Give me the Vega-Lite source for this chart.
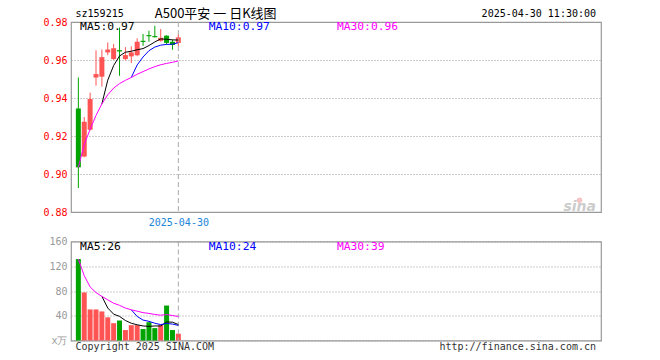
{
  "$schema": "https://vega.github.io/schema/vega-lite/v6.json",
  "background": "white",
  "padding": {"left": 0, "top": 7, "right": 0, "bottom": 0},
  "spacing": 29.5,
  "bounds": "flush",
  "config": {
    "view": {"stroke": "#999999", "strokeWidth": 1.2},
    "axis": {"labelFont": "DejaVu Sans Mono", "labelFontSize": 10, "ticks": false, "tickSize": 0, "domain": false, "title": null, "labelOverlap": false}
  },
  "datasets": {
    "k": [
      {"i": 1, "o": 0.9345, "h": 0.9508, "l": 0.8926, "c": 0.9035, "v": 131.6, "dir": "down", "ma30": 0.9035, "v30": 131.6},
      {"i": 2, "o": 0.9092, "h": 0.9300, "l": 0.9088, "c": 0.9275, "v": 77.7, "dir": "up", "ma30": 0.9155, "v30": 104.7},
      {"i": 3, "o": 0.9233, "h": 0.9428, "l": 0.9230, "c": 0.9395, "v": 50.2, "dir": "up", "ma30": 0.9235, "v30": 86.5},
      {"i": 4, "o": 0.9508, "h": 0.9651, "l": 0.9465, "c": 0.9526, "v": 50.2, "dir": "up", "ma30": 0.9308, "v30": 77.4},
      {"i": 5, "o": 0.9512, "h": 0.9655, "l": 0.9460, "c": 0.9615, "v": 47.0, "dir": "up", "ma5": 0.9369, "ma30": 0.9369, "v5": 71.3, "v30": 71.3},
      {"i": 6, "o": 0.9640, "h": 0.9692, "l": 0.9625, "c": 0.9655, "v": 37.5, "dir": "up", "ma5": 0.9494, "ma30": 0.9417, "v5": 52.5, "v30": 65.7},
      {"i": 7, "o": 0.9605, "h": 0.9685, "l": 0.9600, "c": 0.9662, "v": 28.0, "dir": "up", "ma5": 0.9571, "ma30": 0.9452, "v5": 42.6, "v30": 60.3},
      {"i": 8, "o": 0.9652, "h": 0.9771, "l": 0.9517, "c": 0.9645, "v": 32.3, "dir": "down", "ma5": 0.9621, "ma30": 0.9476, "v5": 39.0, "v30": 56.8},
      {"i": 9, "o": 0.9605, "h": 0.9668, "l": 0.9598, "c": 0.9626, "v": 16.9, "dir": "up", "ma5": 0.9641, "ma30": 0.9493, "v5": 32.3, "v30": 52.4},
      {"i": 10, "o": 0.9619, "h": 0.9672, "l": 0.9584, "c": 0.9640, "v": 24.8, "dir": "up", "ma5": 0.9646, "ma10": 0.9508, "ma30": 0.9508, "v5": 27.9, "v10": 49.6, "v30": 49.6},
      {"i": 11, "o": 0.9625, "h": 0.9714, "l": 0.9620, "c": 0.9696, "v": 24.8, "dir": "up", "ma5": 0.9654, "ma10": 0.9574, "ma30": 0.9525, "v5": 25.4, "v10": 38.9, "v30": 47.4},
      {"i": 12, "o": 0.9701, "h": 0.9737, "l": 0.9675, "c": 0.9695, "v": 18.5, "dir": "down", "ma5": 0.9660, "ma10": 0.9616, "ma30": 0.9539, "v5": 23.5, "v10": 33.0, "v30": 45.0},
      {"i": 13, "o": 0.9731, "h": 0.9754, "l": 0.9696, "c": 0.9725, "v": 29.6, "dir": "down", "ma5": 0.9676, "ma10": 0.9649, "ma30": 0.9553, "v5": 22.9, "v10": 31.0, "v30": 43.8},
      {"i": 14, "o": 0.9726, "h": 0.9780, "l": 0.9718, "c": 0.9720, "v": 20.0, "dir": "down", "ma5": 0.9695, "ma10": 0.9668, "ma30": 0.9565, "v5": 23.5, "v10": 27.9, "v30": 42.1},
      {"i": 15, "o": 0.9701, "h": 0.9763, "l": 0.9696, "c": 0.9717, "v": 24.8, "dir": "up", "ma5": 0.9711, "ma10": 0.9678, "ma30": 0.9575, "v5": 23.5, "v10": 25.7, "v30": 40.9},
      {"i": 16, "o": 0.9728, "h": 0.9730, "l": 0.9682, "c": 0.9690, "v": 56.5, "dir": "down", "ma5": 0.9709, "ma10": 0.9682, "ma30": 0.9582, "v5": 29.9, "v10": 27.6, "v30": 41.9},
      {"i": 17, "o": 0.9696, "h": 0.9707, "l": 0.9654, "c": 0.9679, "v": 16.9, "dir": "down", "ma5": 0.9706, "ma10": 0.9683, "ma30": 0.9588, "v5": 29.6, "v10": 26.5, "v30": 40.4},
      {"i": 18, "o": 0.9690, "h": 0.9737, "l": 0.9672, "c": 0.9719, "v": 11.0, "dir": "up", "ma5": 0.9705, "ma10": 0.9691, "ma30": 0.9595, "v5": 25.8, "v10": 24.4, "v30": 38.8}
    ]
  },
  "vconcat": [
    {
      "width": 530,
      "height": 190,
      "layer": [
        {
          "data": {"name": "k"},
          "mark": {"type": "rule", "strokeWidth": 1},
          "encoding": {
            "x": {"field": "i", "type": "quantitative", "scale": {"domain": [0.6, 89], "nice": false, "zero": false},
                  "axis": {"values": [18], "tickCount": 20, "labelExpr": "'2025-04-30'", "labelColor": "#1a86d8", "grid": false, "labelPadding": 5}},
            "y": {"field": "l", "type": "quantitative", "scale": {"domain": [0.88, 0.98], "nice": false, "zero": false},
                  "axis": {"values": [0.88, 0.9, 0.92, 0.94, 0.96, 0.98], "tickCount": 20, "format": ".2f", "labelColor": "#ff0000", "grid": true, "gridColor": "#999999", "gridDash": [1, 2], "labelPadding": 4, "minExtent": 70, "maxExtent": 70}},
            "y2": {"field": "h"},
            "color": {"field": "dir", "type": "nominal", "scale": {"domain": ["up", "down"], "range": ["#ff5454", "#00a400"]}, "legend": null}
          }
        },
        {
          "data": {"name": "k"},
          "mark": {"type": "bar", "size": 5},
          "encoding": {
            "x": {"field": "i", "type": "quantitative"},
            "y": {"field": "o", "type": "quantitative"},
            "y2": {"field": "c"},
            "color": {"field": "dir", "type": "nominal", "legend": null}
          }
        },
        {"data": {"values": [{"k": 1}]}, "mark": {"type": "rule", "color": "#aaaaaa", "strokeDash": [5, 3], "strokeWidth": 1}, "encoding": {"x": {"datum": 18, "type": "quantitative"}}},
        {"data": {"name": "k"}, "mark": {"type": "line", "color": "#000000", "strokeWidth": 1}, "encoding": {"x": {"field": "i", "type": "quantitative"}, "y": {"field": "ma5", "type": "quantitative"}}},
        {"data": {"name": "k"}, "mark": {"type": "line", "color": "#0000ff", "strokeWidth": 1}, "encoding": {"x": {"field": "i", "type": "quantitative"}, "y": {"field": "ma10", "type": "quantitative"}}},
        {"data": {"name": "k"}, "mark": {"type": "line", "color": "#ff00ff", "strokeWidth": 1}, "encoding": {"x": {"field": "i", "type": "quantitative"}, "y": {"field": "ma30", "type": "quantitative"}}},
        {"data": {"values": [{"k": 1}]}, "mark": {"type": "text", "text": "MA5:0.97", "align": "left", "baseline": "middle", "font": "DejaVu Sans Mono", "fontSize": 11.3, "color": "#000000"}, "encoding": {"x": {"datum": 1.3, "type": "quantitative"}, "y": {"datum": 0.9772, "type": "quantitative"}}},
        {"data": {"values": [{"k": 1}]}, "mark": {"type": "text", "text": "MA10:0.97", "align": "left", "baseline": "middle", "font": "DejaVu Sans Mono", "fontSize": 11.3, "color": "#0000ff"}, "encoding": {"x": {"datum": 23.15, "type": "quantitative"}, "y": {"datum": 0.9772, "type": "quantitative"}}},
        {"data": {"values": [{"k": 1}]}, "mark": {"type": "text", "text": "MA30:0.96", "align": "left", "baseline": "middle", "font": "DejaVu Sans Mono", "fontSize": 11.3, "color": "#ff00ff"}, "encoding": {"x": {"datum": 44.95, "type": "quantitative"}, "y": {"datum": 0.9772, "type": "quantitative"}}},
        {"data": {"values": [{"k": 1}]}, "mark": {"type": "text", "text": "sz159215", "align": "left", "baseline": "middle", "font": "DejaVu Sans Mono", "fontSize": 10, "color": "#000000"}, "encoding": {"x": {"datum": 0.52, "type": "quantitative"}, "y": {"datum": 0.9842, "type": "quantitative"}}},
        {"data": {"values": [{"k": 1}]}, "mark": {"type": "text", "text": "A500平安 一 日K线图", "align": "left", "baseline": "middle", "font": "Noto Sans CJK SC", "fontSize": 13, "color": "#000000"}, "encoding": {"x": {"datum": 14.0, "type": "quantitative"}, "y": {"datum": 0.9843, "type": "quantitative"}}},
        {"data": {"values": [{"k": 1}]}, "mark": {"type": "text", "text": "2025-04-30 11:30:00", "align": "right", "baseline": "middle", "font": "DejaVu Sans Mono", "fontSize": 10, "color": "#000000"}, "encoding": {"x": {"datum": 89, "type": "quantitative"}, "y": {"datum": 0.9842, "type": "quantitative"}}},
        {"data": {"values": [{"k": 1}]}, "mark": {"type": "point", "shape": "circle", "size": 30, "filled": true, "color": "#f6c4c4", "opacity": 1}, "encoding": {"x": {"datum": 86.2, "type": "quantitative"}, "y": {"datum": 0.8862, "type": "quantitative"}}},
        {"data": {"values": [{"k": 1}]}, "mark": {"type": "text", "text": "sina", "align": "right", "baseline": "alphabetic", "font": "DejaVu Sans", "fontStyle": "italic", "fontWeight": "bold", "fontSize": 14, "color": "#cccccc"}, "encoding": {"x": {"datum": 89, "type": "quantitative"}, "y": {"datum": 0.8807, "type": "quantitative"}}}
      ]
    },
    {
      "width": 530,
      "height": 99,
      "layer": [
        {
          "data": {"name": "k"},
          "mark": {"type": "bar", "size": 5},
          "encoding": {
            "x": {"field": "i", "type": "quantitative", "scale": {"domain": [0.6, 89], "nice": false, "zero": false}, "axis": null},
            "y": {"field": "v", "type": "quantitative", "scale": {"domain": [0, 160], "nice": false},
                  "axis": {"values": [0, 40, 80, 120, 160], "tickCount": 20, "labelExpr": "datum.value == 0 ? 'x万' : datum.label", "labelColor": "#999999", "grid": true, "gridColor": "#999999", "gridDash": [1, 2], "labelPadding": 4, "minExtent": 70, "maxExtent": 70}},
            "color": {"field": "dir", "type": "nominal", "scale": {"domain": ["up", "down"], "range": ["#ff5454", "#00a400"]}, "legend": null}
          }
        },
        {"data": {"values": [{"k": 1}]}, "mark": {"type": "rule", "color": "#aaaaaa", "strokeDash": [5, 3], "strokeWidth": 1}, "encoding": {"x": {"datum": 18, "type": "quantitative"}}},
        {"data": {"name": "k"}, "mark": {"type": "line", "color": "#000000", "strokeWidth": 1}, "encoding": {"x": {"field": "i", "type": "quantitative"}, "y": {"field": "v5", "type": "quantitative"}}},
        {"data": {"name": "k"}, "mark": {"type": "line", "color": "#0000ff", "strokeWidth": 1}, "encoding": {"x": {"field": "i", "type": "quantitative"}, "y": {"field": "v10", "type": "quantitative"}}},
        {"data": {"name": "k"}, "mark": {"type": "line", "color": "#ff00ff", "strokeWidth": 1}, "encoding": {"x": {"field": "i", "type": "quantitative"}, "y": {"field": "v30", "type": "quantitative"}}},
        {"data": {"values": [{"k": 1}]}, "mark": {"type": "text", "text": "MA5:26", "align": "left", "baseline": "middle", "font": "DejaVu Sans Mono", "fontSize": 11.3, "color": "#000000"}, "encoding": {"x": {"datum": 1.3, "type": "quantitative"}, "y": {"datum": 151, "type": "quantitative"}}},
        {"data": {"values": [{"k": 1}]}, "mark": {"type": "text", "text": "MA10:24", "align": "left", "baseline": "middle", "font": "DejaVu Sans Mono", "fontSize": 11.3, "color": "#0000ff"}, "encoding": {"x": {"datum": 23.15, "type": "quantitative"}, "y": {"datum": 151, "type": "quantitative"}}},
        {"data": {"values": [{"k": 1}]}, "mark": {"type": "text", "text": "MA30:39", "align": "left", "baseline": "middle", "font": "DejaVu Sans Mono", "fontSize": 11.3, "color": "#ff00ff"}, "encoding": {"x": {"datum": 44.95, "type": "quantitative"}, "y": {"datum": 151, "type": "quantitative"}}},
        {"data": {"values": [{"k": 1}]}, "mark": {"type": "text", "text": "Copyright 2025 SINA.COM", "align": "left", "baseline": "middle", "font": "DejaVu Sans Mono", "fontSize": 10, "color": "#333333"}, "encoding": {"x": {"datum": 0.52, "type": "quantitative"}, "y": {"datum": -10, "type": "quantitative"}}},
        {"data": {"values": [{"k": 1}]}, "mark": {"type": "text", "text": "http://finance.sina.com.cn", "align": "right", "baseline": "middle", "font": "DejaVu Sans Mono", "fontSize": 10, "color": "#333333"}, "encoding": {"x": {"datum": 89, "type": "quantitative"}, "y": {"datum": -10, "type": "quantitative"}}}
      ]
    }
  ]
}
